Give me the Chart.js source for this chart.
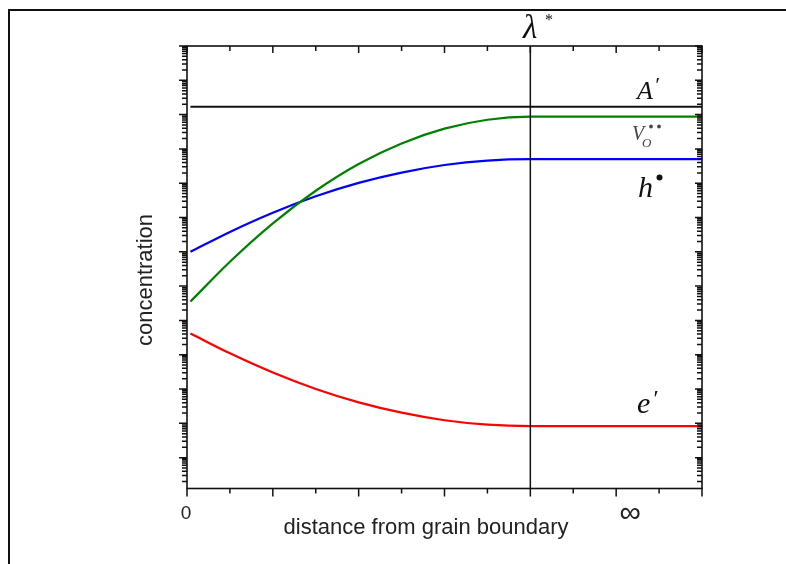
<!DOCTYPE html>
<html>
<head>
<meta charset="utf-8">
<script src="https://cdn.jsdelivr.net/npm/chart.js@4"></script>
<style>
  html, body { margin: 0; padding: 0; background: #fff; }
  #wrap { position: relative; width: 786px; height: 564px; overflow: hidden; }
  #frame { position: absolute; left: 8px; top: 9px; width: 900px; height: 700px;
           border-left: 2px solid #111; border-top: 2px solid #111; }
  #chart { position: absolute; left: 0; top: 0; }
</style>
</head>
<body>
<div id="wrap">
  <div id="frame"></div>
  <canvas id="chart" width="786" height="564"></canvas>
</div>
<script>
// Defect concentration profiles near a grain boundary (log scale, exponents)
const xPos = [0.08, 1, 2, 3, 4, 5, 6, 7, 8, 12];
const logVacancy = [5.55, 6.71, 7.83, 8.78, 9.56, 10.16, 10.59, 10.85, 10.94, 10.94];
const logHole = [7.00, 7.58, 8.14, 8.62, 9.01, 9.31, 9.53, 9.66, 9.70, 9.70];
const logElectron = [4.62, 4.04, 3.48, 3.00, 2.61, 2.31, 2.09, 1.96, 1.92, 1.92];
const acceptorX = [0.08, 12];
const logAcceptor = [11.23, 11.23];
const lambdaStar = 8;

// axis ranges and ticks
const xMin = 0, xMax = 12;
const logMin = 0.1, logMax = 13;
const xMajorTicks = [0, 2, 4, 6, 8, 10, 12];
const xMinorTicks = [1, 3, 5, 7, 9, 11];
const xLabelValues = [0, 10];
const xLabels = ['0', '\u221E'];
const yDecades = [1, 2, 3, 4, 5, 6, 7, 8, 9, 10, 11, 12, 13];
const yMinorSteps = [2, 3, 4, 5, 6, 7, 8, 9];

function toPoints(xs, logs) {
  return xs.map((x, i) => ({ x: x, y: Math.pow(10, logs[i]) }));
}

const axesPlugin = {
  id: 'axesPlugin',
  afterDatasetsDraw(chart) {
    const { ctx, chartArea: a, scales: { x, y } } = chart;
    ctx.save();

    // frame
    ctx.strokeStyle = '#111';
    ctx.lineWidth = 1.6;
    ctx.strokeRect(a.left, a.top, a.right - a.left, a.bottom - a.top);

    // x ticks: bottom outward, top inward
    ctx.lineWidth = 1.5;
    ctx.beginPath();
    xMajorTicks.forEach(v => {
      const px = x.getPixelForValue(v);
      ctx.moveTo(px, a.bottom); ctx.lineTo(px, a.bottom + 8);
      ctx.moveTo(px, a.top); ctx.lineTo(px, a.top + 7);
    });
    xMinorTicks.forEach(v => {
      const px = x.getPixelForValue(v);
      ctx.moveTo(px, a.bottom); ctx.lineTo(px, a.bottom + 5);
      ctx.moveTo(px, a.top); ctx.lineTo(px, a.top + 5);
    });

    // y ticks: left outward, right inward
    yDecades.forEach(e => {
      const py = y.getPixelForValue(Math.pow(10, e));
      ctx.moveTo(a.left, py); ctx.lineTo(a.left - 8, py);
      ctx.moveTo(a.right, py); ctx.lineTo(a.right - 7, py);
      yMinorSteps.forEach(k => {
        const v = k * Math.pow(10, e - 1);
        if (v < Math.pow(10, logMin)) return;
        const pm = y.getPixelForValue(v);
        ctx.moveTo(a.left, pm); ctx.lineTo(a.left - 5, pm);
        ctx.moveTo(a.right, pm); ctx.lineTo(a.right - 5, pm);
      });
    });
    ctx.stroke();

    // tick labels
    ctx.fillStyle = '#222';
    ctx.textAlign = 'center';
    ctx.textBaseline = 'alphabetic';
    ctx.font = '19px "Liberation Sans", Arial, sans-serif';
    ctx.fillText(xLabels[0], x.getPixelForValue(xLabelValues[0]) - 1, 519);
    ctx.font = '30px "Liberation Sans", Arial, sans-serif';
    ctx.fillText(xLabels[1], x.getPixelForValue(xLabelValues[1]) + 14, 522);

    // axis titles
    ctx.font = '22px "Liberation Sans", Arial, sans-serif';
    ctx.fillText('distance from grain boundary', 426, 534);
    ctx.save();
    ctx.translate(152, 280);
    ctx.rotate(-Math.PI / 2);
    ctx.fillText('concentration', 0, 0);
    ctx.restore();

    // species labels
    const serif = '"Liberation Serif", "Times New Roman", serif';
    ctx.textAlign = 'left';
    ctx.fillStyle = '#111';
    ctx.font = 'italic 33px ' + serif;
    ctx.fillText('\u03BB', 523, 38);
    ctx.font = '16px ' + serif;
    ctx.fillText('*', 545, 25);

    ctx.font = 'italic 26px ' + serif;
    ctx.fillText('A', 637, 99);
    ctx.font = 'italic 22px ' + serif;
    ctx.fillText('\u2032', 654, 92);

    ctx.fillStyle = '#444';
    ctx.font = 'italic 20px ' + serif;
    ctx.fillText('V', 632, 140);
    ctx.font = 'italic 13px ' + serif;
    ctx.fillText('O', 642, 147);
    ctx.beginPath();
    ctx.arc(651, 126.5, 1.9, 0, Math.PI * 2);
    ctx.arc(659, 126.5, 1.9, 0, Math.PI * 2);
    ctx.fill();

    ctx.fillStyle = '#111';
    ctx.font = 'italic 30px ' + serif;
    ctx.fillText('h', 638, 197);
    ctx.beginPath();
    ctx.arc(659.5, 177.5, 3, 0, Math.PI * 2);
    ctx.fill();

    ctx.font = 'italic 30px ' + serif;
    ctx.fillText('e', 637, 413);
    ctx.font = 'italic 24px ' + serif;
    ctx.fillText('\u2032', 652, 406);

    ctx.restore();
  }
};

const yMinVal = Math.pow(10, logMin);
const yMaxVal = Math.pow(10, logMax);

new Chart(document.getElementById('chart'), {
  type: 'line',
  data: {
    datasets: [
      {
        label: 'A\u2032',
        data: toPoints(acceptorX, logAcceptor),
        borderColor: '#111',
        borderWidth: 2
      },
      {
        label: '\u03BB*',
        data: [{ x: lambdaStar, y: yMinVal }, { x: lambdaStar, y: yMaxVal }],
        borderColor: '#111',
        borderWidth: 1.5
      },
      {
        label: 'V_O',
        data: toPoints(xPos, logVacancy),
        borderColor: '#008000',
        borderWidth: 2.2,
        cubicInterpolationMode: 'monotone'
      },
      {
        label: 'h',
        data: toPoints(xPos, logHole),
        borderColor: '#0000ff',
        borderWidth: 2.2,
        cubicInterpolationMode: 'monotone'
      },
      {
        label: 'e',
        data: toPoints(xPos, logElectron),
        borderColor: '#ff0000',
        borderWidth: 2.2,
        cubicInterpolationMode: 'monotone'
      }
    ]
  },
  options: {
    responsive: false,
    animation: false,
    layout: { padding: { left: 187, right: 84, top: 46, bottom: 75.5 } },
    elements: { point: { radius: 0 } },
    plugins: { legend: { display: false }, tooltip: { enabled: false } },
    scales: {
      x: { type: 'linear', min: xMin, max: xMax, display: false },
      y: { type: 'logarithmic', min: yMinVal, max: yMaxVal, display: false }
    }
  },
  plugins: [axesPlugin]
});
</script>
</body>
</html>
